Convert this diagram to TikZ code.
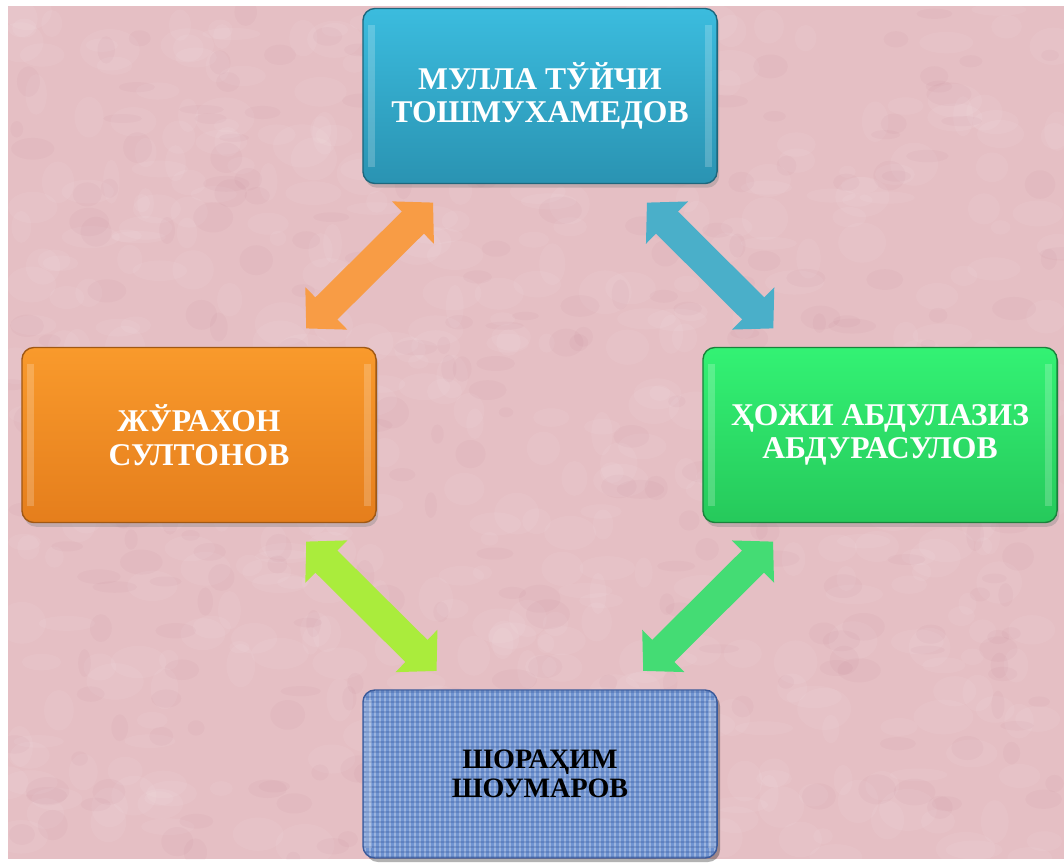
\documentclass[tikz,border=0pt]{standalone}
\usepackage{fontspec}
\setmainfont{Liberation Serif}
\usetikzlibrary{arrows.meta,shadows}

\definecolor{bgpink}{HTML}{E5BFC4}
\definecolor{clothblue}{HTML}{6F93D1}
\definecolor{clothdark}{HTML}{3A5A9A}
\definecolor{mullatop}{HTML}{3BBCDE}
\definecolor{mullabot}{HTML}{2A93B2}
\definecolor{jurtop}{HTML}{F99A2C}
\definecolor{jurbot}{HTML}{E57E1C}
\definecolor{azeztop}{HTML}{33F274}
\definecolor{azezbot}{HTML}{26C95B}
\definecolor{orangearrow}{HTML}{F89C45}
\definecolor{bluearrow}{HTML}{4AAFC9}
\definecolor{limearrow}{HTML}{AAEC3C}
\definecolor{greenarrow}{HTML}{44DC74}

\tikzset{
  namebox/.style={draw=#1, line width=1pt, rounded corners=0.3cm,
    minimum width=8.85cm, minimum height=4.375cm, align=center,
    text=white, font=\bfseries\fontsize{22.5}{24}\selectfont,
    drop shadow={opacity=0.35, shadow xshift=1.5pt, shadow yshift=-3pt}},
  linkarrow/.style={draw=#1, line width=0.78cm,
    {Triangle[length=0.71cm,width=1.45cm]}-{Triangle[length=0.71cm,width=1.45cm]},
    shorten <=0.65cm, shorten >=0.65cm}
}

\begin{document}
\begin{tikzpicture}[x=0.025cm,y=-0.025cm]
  \fill[white] (0,0) rectangle (1064,859);
  \fill[bgpink] (8,6) rectangle (1064,859);
  \begin{scope}
    \clip (8,6) rectangle (1064,859);
    \pgfmathsetseed{11}
    \foreach \i in {1,...,500}
      \fill[white,opacity=0.06] (8+rnd*1056,6+rnd*853) ellipse ({8+rnd*22} and {6+rnd*16});
    \foreach \i in {1,...,300}
      \fill[purple!60!black,opacity=0.025] (8+rnd*1056,6+rnd*853) ellipse ({6+rnd*18} and {4+rnd*12});
  \end{scope}

  \fill[black,opacity=0.3,rounded corners=0.3cm] (366,694) rectangle (720,862);
  \begin{scope}
    \clip[rounded corners=0.3cm] (363,690) rectangle (717,858);
    \fill[clothblue] (363,690) rectangle (717,858);
    \foreach \x in {365,370,...,717}
      \draw[white,opacity=0.3,line width=0.8pt] (\x,690) -- (\x,858);
    \foreach \y in {692,697,...,858}
      \draw[clothdark,opacity=0.3,line width=0.8pt] (363,\y) -- (717,\y);
    \fill[white,opacity=0.2] (366,700) rectangle (372,848);
    \fill[white,opacity=0.2] (708,700) rectangle (714,848);
  \end{scope}

  \node[namebox=mullabot!70!black, top color=mullatop, bottom color=mullabot]
    (mulla) at (540,96) {МУЛЛА ТЎЙЧИ\\ТОШМУХАМЕДОВ};
  \node[namebox=jurbot!70!black, top color=jurtop, bottom color=jurbot]
    (jurakhon) at (199,435) {ЖЎРАХОН\\СУЛТОНОВ};
  \node[namebox=azezbot!65!black, top color=azeztop, bottom color=azezbot]
    (abdulaziz) at (880,435) {ҲОЖИ АБДУЛАЗИЗ\\АБДУРАСУЛОВ};
  \node[draw=clothdark, line width=1pt, rounded corners=0.3cm, minimum width=8.85cm,
    minimum height=4.2cm, align=center, font=\bfseries\fontsize{20}{21}\selectfont]
    (shorakhim) at (540,774) {ШОРАҲИМ\\ШОУМАРОВ};

  \foreach \n in {mulla,jurakhon,abdulaziz} {
    \fill[white,opacity=0.2] ([xshift=4pt,yshift=-12pt]\n.north west) rectangle ([xshift=9pt,yshift=12pt]\n.south west);
    \fill[white,opacity=0.2] ([xshift=-9pt,yshift=-12pt]\n.north east) rectangle ([xshift=-4pt,yshift=12pt]\n.south east);
  }

  \draw[linkarrow=orangearrow] (jurakhon) -- (mulla);
  \draw[linkarrow=bluearrow] (mulla) -- (abdulaziz);
  \draw[linkarrow=limearrow] (jurakhon) -- (shorakhim);
  \draw[linkarrow=greenarrow] (abdulaziz) -- (shorakhim);
\end{tikzpicture}
\end{document}
